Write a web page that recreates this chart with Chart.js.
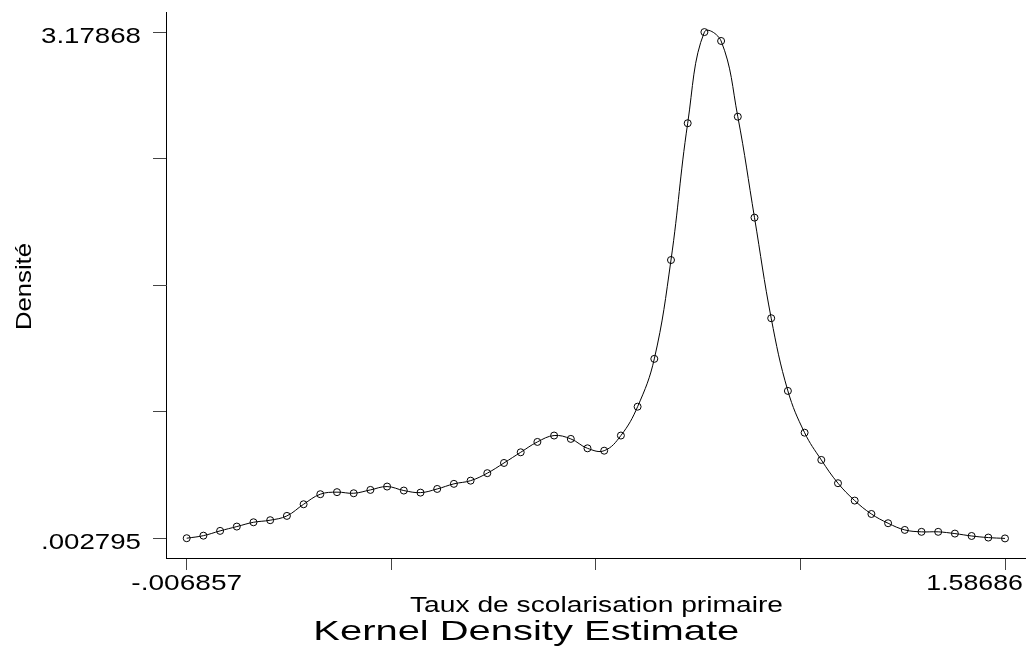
<!DOCTYPE html>
<html>
<head>
<meta charset="utf-8">
<title>Kernel Density Estimate</title>
<script src="https://cdn.jsdelivr.net/npm/chart.js@4/dist/chart.umd.min.js"></script>
<style>
    html, body { margin: 0; padding: 0; background: #fff; }
    #wrap { width: 1032px; height: 654px; }
</style>
</head>
<body>
<div id="wrap"><canvas id="kdensity" width="1032" height="654"></canvas></div>
<script>
// Taux de scolarisation primaire (evaluation grid)
const gridX = [
    -0.006857, 0.025668, 0.058193, 0.090717, 0.123242, 0.155767, 0.188292, 0.220817, 0.253341, 0.285866,
    0.318391, 0.350916, 0.383441, 0.415965, 0.448490, 0.481015, 0.513540, 0.546065, 0.578589, 0.611114,
    0.643639, 0.676164, 0.708689, 0.741213, 0.773738, 0.806263, 0.838788, 0.871313, 0.903837, 0.936362,
    0.968887, 1.001412, 1.033937, 1.066461, 1.098986, 1.131511, 1.164036, 1.196561, 1.229085, 1.261610,
    1.294135, 1.326660, 1.359185, 1.391709, 1.424234, 1.456759, 1.489284, 1.521809, 1.554333, 1.586858
];

// Densité
const density = [
    0.004, 0.020, 0.050, 0.077, 0.104, 0.117, 0.144, 0.217, 0.280, 0.293,
    0.286, 0.307, 0.328, 0.303, 0.290, 0.313, 0.345, 0.365, 0.412, 0.476,
    0.543, 0.608, 0.648, 0.627, 0.568, 0.553, 0.648, 0.829, 1.129, 1.749,
    2.607, 3.17868, 3.123, 2.648, 2.015, 1.384, 0.928, 0.666, 0.495, 0.349,
    0.240, 0.156, 0.098, 0.056, 0.044, 0.044, 0.033, 0.018, 0.008, 0.002795
];

const xTickValues = [-0.006857, 0.391572, 0.790001, 1.188431, 1.58686];
const xTickLabels = ["-.006857", "", "", "", "1.58686"];
const yTickValues = [0.002795, 0.796766, 1.590738, 2.384709, 3.17868];
const yTickLabels = [".002795", "", "", "", "3.17868"];

const xTitle = "Taux de scolarisation primaire";
const yTitle = "Densité";
const mainTitle = "Kernel Density Estimate";

const FONT = '"Liberation Sans", Arial, sans-serif';

// Stata stretches its text sideways, so draw each string scaled to its width
function stretchedText(ctx, text, x, y, size, width, align) {
    ctx.font = size + "px " + FONT;
    const w = ctx.measureText(text).width;
    let left = x;
    if (align === "center") left = x - width / 2;
    if (align === "right") left = x - width;
    ctx.save();
    ctx.translate(left, y);
    ctx.scale(width / w, 1);
    ctx.textAlign = "left";
    ctx.textBaseline = "alphabetic";
    ctx.fillText(text, 0, 0);
    ctx.restore();
}

const stataText = {
    id: "stataText",
    afterDraw(chart) {
        const ctx = chart.ctx;
        const xs = chart.scales.x;
        const ys = chart.scales.y;
        ctx.save();
        ctx.fillStyle = "#000";

        // y tick labels
        yTickValues.forEach((v, i) => {
            if (!yTickLabels[i]) return;
            stretchedText(ctx, yTickLabels[i], 141, ys.getPixelForValue(v) + 11, 22, 100, "right");
        });

        // x tick labels, last one pulled back inside the canvas
        xTickValues.forEach((v, i) => {
            const label = xTickLabels[i];
            if (!label) return;
            const width = label.length * 14.1 - 2;
            let centre = xs.getPixelForValue(v);
            const maxRight = chart.width - 9;
            if (centre + width / 2 > maxRight) centre = maxRight - width / 2;
            stretchedText(ctx, label, centre, 590, 22, width, "center");
        });

        stretchedText(ctx, xTitle, 596.5, 611.5, 22, 373, "center");
        stretchedText(ctx, mainTitle, 313.3, 640, 28, 426, "left");

        ctx.save();
        ctx.translate(31, 286.5);
        ctx.rotate(-Math.PI / 2);
        stretchedText(ctx, yTitle, 0, 0, 22, 87, "center");
        ctx.restore();

        ctx.restore();
    }
};

new Chart(document.getElementById("kdensity"), {
    type: "line",
    data: {
        datasets: [{
            label: yTitle,
            data: gridX.map((x, i) => ({ x: x, y: density[i] })),
            borderColor: "#000",
            borderWidth: 1,
            tension: 0.4,
            fill: false,
            pointStyle: "circle",
            pointRadius: 3.5,
            pointBorderWidth: 1,
            pointBorderColor: "#000",
            pointBackgroundColor: "rgba(0,0,0,0)",
        }],
    },
    options: {
        responsive: false,
        animation: false,
        devicePixelRatio: 1,
        layout: {
            padding: { left: 153, right: 7, top: 12, bottom: 84 },
        },
        plugins: {
            legend: { display: false },
            tooltip: { enabled: false },
            title: { display: false },
        },
        scales: {
            x: {
                type: "linear",
                min: -0.04717,
                max: 1.62581,
                afterBuildTicks: (scale) => {
                    scale.ticks = xTickValues.map(v => ({ value: v }));
                },
                ticks: { display: false },
                grid: { drawOnChartArea: false, drawTicks: true, tickLength: 12, color: "#444" },
                border: { display: true, color: "#000", width: 1 },
            },
            y: {
                type: "linear",
                min: -0.1201,
                max: 3.3047,
                afterBuildTicks: (scale) => {
                    scale.ticks = yTickValues.map(v => ({ value: v }));
                },
                ticks: { display: false },
                grid: { drawOnChartArea: false, drawTicks: true, tickLength: 13, color: "#444" },
                border: { display: true, color: "#000", width: 1 },
            },
        },
    },
    plugins: [stataText],
});
</script>
</body>
</html>
